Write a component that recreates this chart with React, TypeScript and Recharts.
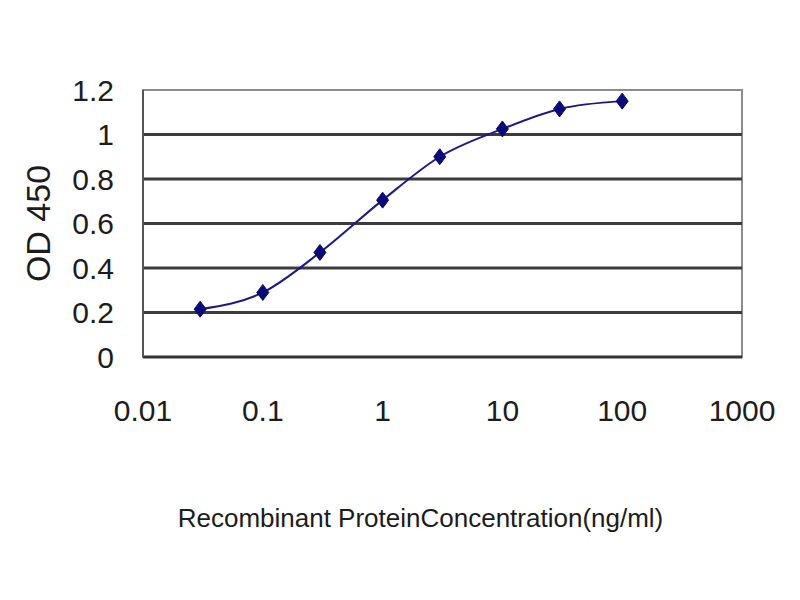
import React from 'react';
import { LineChart, Line, XAxis, YAxis, ReferenceLine, ReferenceArea } from 'recharts';

const concentrations = [0.03, 0.1, 0.3, 1, 3, 10, 30, 100];
const od450 = [0.215, 0.29, 0.47, 0.705, 0.9, 1.025, 1.115, 1.15];
const xTicks = [0.01, 0.1, 1, 10, 100, 1000];
const yTicks = [0, 0.2, 0.4, 0.6, 0.8, 1, 1.2];
const gridValues = [0.2, 0.4, 0.6, 0.8, 1];
const xTitle = 'Recombinant ProteinConcentration(ng/ml)';
const yTitle = 'OD 450';

const data = concentrations.map((c, i) => ({ x: c, y: od450[i] }));

const FONT = '"Liberation Sans", Arial, sans-serif';
const TEXT = '#1c1c1c';

const XTick = (props: any) => {
  const { x, y, payload } = props;
  return (
    <text x={x} y={y + 53} textAnchor="middle" dominantBaseline="central" fontFamily={FONT} fontSize={30} fill={TEXT}>
      {String(payload.value)}
    </text>
  );
};

const YTick = (props: any) => {
  const { x, y, payload } = props;
  return (
    <text x={x - 29} y={y} textAnchor="end" dominantBaseline="central" fontFamily={FONT} fontSize={30} fill={TEXT}>
      {String(payload.value)}
    </text>
  );
};

const XTitle = (props: any) => {
  const vb = props.viewBox || { x: 0, y: 0, width: 0, height: 0 };
  const cx = vb.x + vb.width / 2 - 22;
  return (
    <text x={cx} y={vb.y + 161} textAnchor="middle" dominantBaseline="central" fontFamily={FONT} fontSize={26} fill={TEXT}>
      {xTitle}
    </text>
  );
};

const YTitle = (props: any) => {
  const vb = props.viewBox || { x: 0, y: 0, width: 0, height: 0 };
  const cx = vb.x + vb.width - 105;
  const cy = vb.y + vb.height / 2;
  return (
    <text x={cx} y={cy} transform={`rotate(-90 ${cx} ${cy})`} textAnchor="middle" dominantBaseline="central" fontFamily={FONT} fontSize={34} fill={TEXT}>
      {yTitle}
    </text>
  );
};

const Diamond = (props: any) => {
  const { cx, cy, index } = props;
  if (cx == null || cy == null) return <g key={`d-${index}`} />;
  return (
    <path
      key={`d-${index}`}
      d={`M${cx},${cy - 8} L${cx + 6},${cy} L${cx},${cy + 8} L${cx - 6},${cy} Z`}
      fill="#0b0b78"
      stroke="#0b0b78"
      strokeWidth={1}
    />
  );
};

export default function App() {
  return (
    <div style={{ position: 'absolute', left: 0, top: 0, width: 800, height: 600, background: '#fff' }}>
      <LineChart width={800} height={600} data={data} margin={{ top: 90, right: 58, bottom: 183, left: 10 }}>
        <ReferenceArea x1={0.01} x2={1000} y1={0} y2={1.2} fill="none" stroke="#8c8c8c" strokeWidth={2} ifOverflow="visible" />
        {gridValues.map((v) => (
          <ReferenceLine key={v} y={v} stroke="#3c3c3c" strokeWidth={3} />
        ))}
        <XAxis
          dataKey="x"
          type="number"
          scale="log"
          domain={[0.01, 1000]}
          allowDataOverflow
          ticks={xTicks}
          tick={<XTick />}
          tickLine={false}
          tickSize={0}
          tickMargin={0}
          height={60}
          axisLine={{ stroke: '#333', strokeWidth: 3 }}
          label={<XTitle />}
        />
        <YAxis
          type="number"
          domain={[0, 1.2]}
          ticks={yTicks}
          tick={<YTick />}
          tickLine={false}
          tickSize={0}
          tickMargin={0}
          width={133}
          axisLine={{ stroke: '#555', strokeWidth: 2 }}
          label={<YTitle />}
        />
        <Line
          dataKey="y"
          type="monotone"
          stroke="#1a1a86"
          strokeWidth={2}
          dot={Diamond}
          activeDot={false}
          isAnimationActive={false}
        />
      </LineChart>
    </div>
  );
}
